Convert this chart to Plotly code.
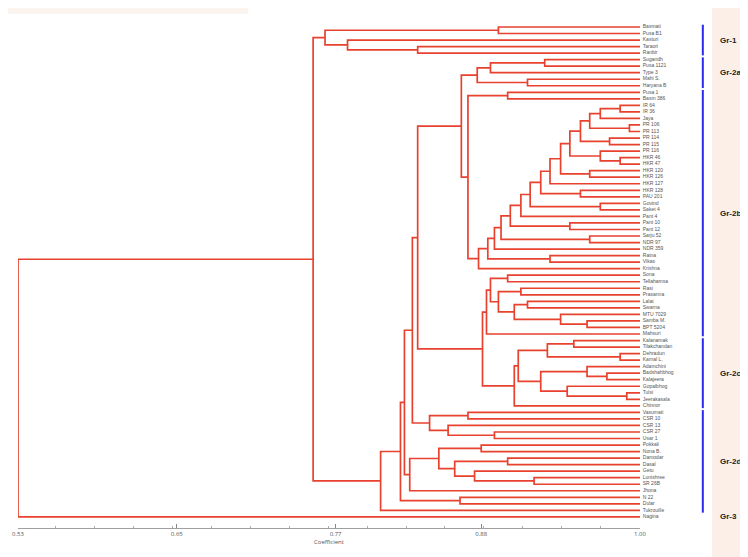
import plotly.graph_objects as go

# ---- data -------------------------------------------------------------
leaf_names = [
    "Basmati", "Pusa B1", "Kasturi", "Taraori", "Ranbir",
    "Sugandh", "Pusa 1121", "Type 3", "Mahi S.", "Haryana B",
    "Pusa 1", "Basm 386", "IR 64", "IR 36", "Jaya", "PR 106", "PR 113", "PR 114",
    "PR 115", "PR 116", "HKR 46", "HKR 47", "HKR 120", "HKR 126", "HKR 127",
    "HKR 128", "PAU 201", "Govind", "Saket 4", "Pant 4", "Pant 10", "Pant 12",
    "Sarju 52", "NDR 97", "NDR 359", "Ratna", "Vikas", "Krishna", "Sona",
    "Tellahamsa", "Rasi", "Prasanna", "Lalat", "Swarna", "MTU 7029",
    "Samba M.", "BPT 5204", "Mahsuri",
    "Kalanamak", "Tilakchandan", "Dehradun", "Karnal L.", "Adamchini",
    "Badshahbhog", "Kalajeera", "Gopalbhog", "Tulsi", "Jeerakasala", "Chinnor",
    "Vasumati", "CSR 10", "CSR 13", "CSR 27", "Usar 1", "Pokkali", "Nona B.",
    "Damodar", "Dasal", "Getu", "Lunishree", "SR 26B", "Jhona", "N 22",
    "Dular", "Tukrouille", "Nagina",
]

tick_values = [0.53, 0.65, 0.77, 0.88, 1.00]
tick_labels = ["0.53", "0.65", "0.77", "0.88", "1.00"]
axis_title = "Coefficient"

group_names = ["Gr-1", "Gr-2a", "Gr-2b", "Gr-2c", "Gr-2d", "Gr-3"]
group_first_leaf = [0, 5, 10, 48, 59, 75]
group_last_leaf = [4, 9, 47, 58, 74, 75]

# tree: [similarity, child, child]; integers are leaf indices
gr1 = [0.762, [0.893, 0, 1], [0.779, 2, [0.832, 3, 4]]]
gr2a = [0.877, [0.887, [0.928, 5, 6], 7], [0.915, 8, 9]]

core = [0.947,
        [0.955, [0.962, [0.970, [0.985, 12, 13], 14], [0.992, 15, 16]], [0.977, 17, 18]],
        [0.970, 19, [0.985, 20, 21]]]
s1 = [0.940, core, [0.962, 22, 23]]
s2 = [0.932, s1, 24]
s3 = [0.925, s2, [0.955, 25, 26]]
s4 = [0.917, s3, [0.970, 27, 28]]
s5 = [0.910, s4, 29]
s6 = [0.902, s5, [0.947, 30, 31]]
s7 = [0.895, s6, [0.962, 32, 33]]
s8 = [0.890, s7, 34]
s9 = [0.885, s8, [0.932, 35, 36]]
gr2b_top = [0.870, [0.900, 10, 11], [0.878, s9, 37]]
gr2b_low = [0.887, [0.900, 38, 39], [0.893, [0.910, 40, 41],
                                     [0.905, [0.915, 42, 43], [0.940, 44, [0.960, 45, 46]]]]]
gr2c = [0.908, [0.930, [0.950, 48, 49], [0.985, 50, 51]],
        [0.925, [0.960, 52, [0.975, 53, 54]], [0.945, 55, [0.990, 56, 57]]]]
gr2bc = [0.881, [0.884, gr2b_low, 47], [0.905, gr2c, 58]]
gr2ab = [0.865, gr2a, gr2b_top]
w = [0.832, gr2ab, gr2bc]
d2 = [0.841, [0.870, 59, 60], [0.855, 61, [0.890, 62, 63]]]
d3 = [0.848, [0.880, 64, 65], [0.860, [0.900, 66, 67], [0.875, 68, [0.920, 69, 70]]]]
z = [0.822, [0.828, w, d2], [0.826, d3, 71]]
y_node = [0.819, z, [0.864, 72, 73]]
x_node = [0.804, y_node, 74]
main = [0.753, gr1, x_node]
root = [0.530, main, 75]

# ---- build dendrogram segments --------------------------------------
LEAF_X = 1.0
xs, ys = [], []


def walk(node):
    if isinstance(node, int):
        return node, LEAF_X
    h, a, b = node
    ya, xa = walk(a)
    yb, xb = walk(b)
    xs.extend([xa, h, h, xb, None])
    ys.extend([ya, ya, yb, yb, None])
    return (ya + yb) / 2, h


walk(root)

fig = go.Figure()
fig.add_trace(go.Scatter(x=xs, y=ys, mode="lines",
                         line=dict(color="#e8422f", width=1.7),
                         hoverinfo="skip", showlegend=False))
fig.add_trace(go.Scatter(x=[LEAF_X] * len(leaf_names), y=list(range(len(leaf_names))),
                         mode="text", text=["  " + n for n in leaf_names],
                         textposition="middle right",
                         textfont=dict(size=5, color="#555", family="Liberation Sans"),
                         cliponaxis=False, hoverinfo="skip", showlegend=False))

# decorative background on the right and top
fig.add_shape(type="rect", xref="paper", yref="paper", x0=1.116, x1=1.2, y0=-0.1, y1=1.05,
              fillcolor="#fbefe8", line_width=0, layer="below")
fig.add_shape(type="rect", xref="paper", yref="paper", x0=-0.02, x1=0.37, y0=0.993, y1=1.004,
              fillcolor="#f9ebe2", line_width=0, layer="below", opacity=0.6)

# group bars and labels
for name, a, b in zip(group_names, group_first_leaf, group_last_leaf):
    if name != "Gr-3":
        fig.add_shape(type="line", xref="paper", yref="y", x0=1.101, x1=1.101,
                      y0=a - 0.35, y1=b + 0.35, line=dict(color="#2a2af0", width=2))
    fig.add_annotation(xref="paper", yref="y", x=1.125, y=(a + b) / 2, text="<b>%s</b>" % name,
                       showarrow=False, xanchor="left",
                       font=dict(size=8, color="#222", family="Liberation Sans"))

fig.update_layout(
    width=740, height=549,
    margin=dict(l=10, r=108, t=2, b=29, autoexpand=False),
    plot_bgcolor="white", paper_bgcolor="white",
    xaxis=dict(range=[0.53, 1.00], tickvals=tick_values, ticktext=tick_labels,
               showgrid=False, zeroline=False, showline=True, linecolor="#a0a0a0",
               ticks="inside", ticklen=4, tickcolor="#888", automargin=False,
               minor=dict(ticks="inside", ticklen=2, tickcolor="#aaa", dtick=0.0294),
               tickfont=dict(size=6, color="#555"),
               title=dict(text=axis_title, font=dict(size=6, color="#555"), standoff=2)),
    yaxis=dict(range=[76.7, -2.6], visible=False),
)

fig.write_html("out.html")
